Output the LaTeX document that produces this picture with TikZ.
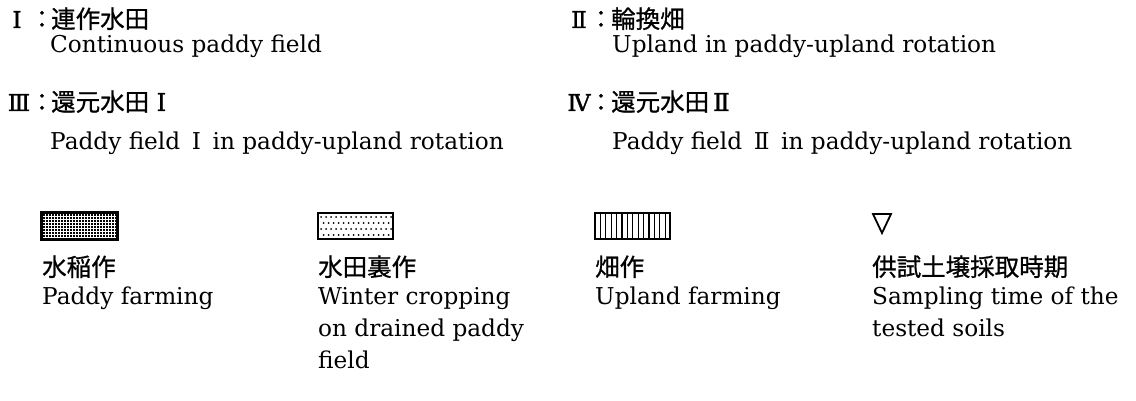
\documentclass[tikz,border=0pt]{standalone}
\usepackage{fontspec}
\setmainfont{DejaVu Serif}
\newfontfamily\cjk{Noto Sans CJK JP}[FakeBold=0.8]
\newfontfamily\romb{DejaVu Serif}[FakeBold=1.2]
\newcommand\latsize{\fontsize{23.2}{30}\selectfont}
\newcommand\cjksize{\cjk\fontsize{24.5}{30}\selectfont}
\newcommand\jrom[1]{\makebox[1em]{\romb #1}}
\begin{document}
\begin{tikzpicture}[x=1pt,y=-1pt,
  lat/.style={anchor=base west, inner sep=0pt, font=\latsize},
  jp/.style={anchor=base west, inner sep=0pt, font=\cjksize},
  rnum/.style={anchor=base, inner sep=0pt, font=\romb\latsize},
  jcolon/.style={anchor=base, inner sep=0pt, font=\cjksize},
  swatch/.style={draw=black, line width=1.6pt, minimum width=75pt, minimum height=26pt, inner sep=0pt}
]
\useasboundingbox (0,0) rectangle (1136,401);

% header, left
\node[rnum] (n1) at (17,28) {Ⅰ};
\node[jcolon] (c1) at (42,28) {\makebox[0.3em]{：}};
\node[jp] (j1) at (51,28) {連作水田};
\node[lat] (e1) at (50,53) {Continuous paddy field};
\node[rnum] (n3) at (19,111) {Ⅲ};
\node[jcolon] (c3) at (42,111) {\makebox[0.3em]{：}};
\node[jp] (j3) at (51,111) {還元水田\jrom{Ⅰ}};
\node[lat] (e3) at (50,150) {Paddy field\hspace{0.5em}Ⅰ\hspace{0.5em}in paddy-upland rotation};

% header, right
\node[rnum] (n2) at (579,28) {Ⅱ};
\node[jcolon] (c2) at (601,28) {\makebox[0.3em]{：}};
\node[jp] (j2) at (611,28) {輪換畑};
\node[lat] (e2) at (612,53) {Upland in paddy-upland rotation};
\node[rnum] (n4) at (579,111) {Ⅳ};
\node[jcolon] (c4) at (601,111) {\makebox[0.3em]{：}};
\node[jp] (j4) at (611,111) {還元水田\jrom{Ⅱ}};
\node[lat] (e4) at (612,150) {Paddy field\hspace{0.5em}Ⅱ\hspace{0.5em}in paddy-upland rotation};

% legend swatches
\node[swatch, fill=black, path picture={
  \foreach \i in {1,...,24} \draw[white, line width=0.9pt]
    ([xshift=3*\i pt]path picture bounding box.north west) -- ([xshift=3*\i pt]path picture bounding box.south west);
  \foreach \i in {1,...,8} \draw[white, line width=0.9pt]
    ([yshift=-3*\i pt]path picture bounding box.north west) -- ([yshift=-3*\i pt]path picture bounding box.north east);
}] (s1) at (79.5,226) {};
\draw[line width=1.8pt] (s1.north west) rectangle (s1.south east);

\node[swatch, path picture={
  \foreach \r in {0,...,3} \foreach \c in {0,...,14}
    \fill ([xshift={3+5*\c+2.5*mod(\r,2)}, yshift={-4-6*\r}]path picture bounding box.north west) circle (1pt);
}] (s2) at (355.5,226) {};

\node[swatch, path picture={
  \foreach \c in {1,...,13} \draw[line width=1.3pt]
    ([xshift=5.4*\c pt]path picture bounding box.north west) -- ([xshift=5.4*\c pt]path picture bounding box.south west);
}] (s3) at (632.5,226) {};

\draw[line width=1.8pt, line join=miter] (873,214) -- (891,214) -- (882,233) -- cycle;

% legend texts
\node[jp] (l1j) at (42,276) {水稲作};
\node[lat] (l1e) at (42,304) {Paddy farming};
\node[jp] (l2j) at (318,276) {水田裏作};
\node[lat] (l2a) at (318,304) {Winter cropping};
\node[lat] (l2b) at (318,336) {on drained paddy};
\node[lat] (l2c) at (318,368) {field};
\node[jp] (l3j) at (595,276) {畑作};
\node[lat] (l3e) at (595,304) {Upland farming};
\node[jp] (l4j) at (872,276) {供試土壌採取時期};
\node[lat] (l4a) at (872,304) {Sampling time of the};
\node[lat] (l4b) at (872,336) {tested soils};
\end{tikzpicture}
\end{document}
